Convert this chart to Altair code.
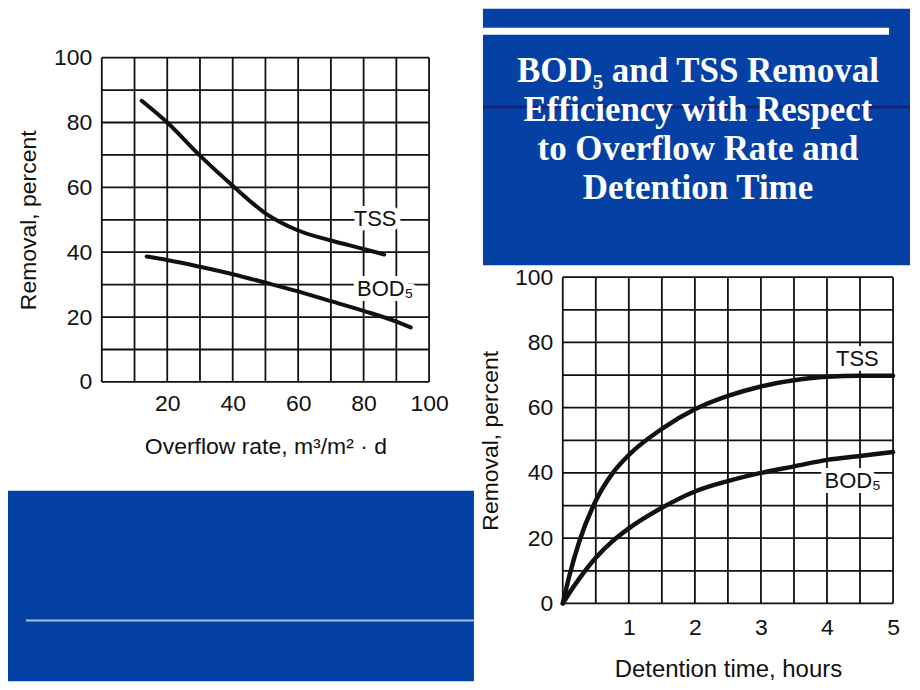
import altair as alt
import pandas as pd

# ---------------- data ----------------
# Left chart: removal vs overflow rate
tss_rate = [12.2, 20, 30, 40, 50, 60, 70, 80, 86.3]
tss_rate_removal = [86.7, 80.0, 69.8, 60.5, 52.0, 46.7, 43.6, 41.0, 39.3]
bod_rate = [13.7, 20, 30, 40, 50, 60, 70, 80, 90, 94.4]
bod_rate_removal = [38.7, 37.6, 35.5, 33.2, 30.6, 27.9, 24.9, 21.9, 18.6, 16.8]

# Right chart: removal vs detention time
det_time = [0, 0.1, 0.25, 0.5, 0.75, 1, 1.5, 2, 2.5, 3, 3.5, 4, 4.5, 5]
tss_det_removal = [0, 8.5, 19, 31.5, 39.8, 45.5, 53.5, 59.5, 63.6, 66.5, 68.4, 69.5, 69.8, 69.8]
bod_det_removal = [0, 3.2, 7.6, 14, 19, 23, 29.3, 34.3, 37.5, 40, 42, 44, 45.2, 46.4]

# curve labels (text, x, y in data units)
left_label_text = ["TSS", "BOD\u2085"]
left_label_x = [83.5, 86.6]
left_label_y = [50.3, 28.8]
right_label_text = ["TSS", "BOD\u2085"]
right_label_x = [4.46, 4.39]
right_label_y = [75.0, 37.4]

# grid lines and tick labels
left_x_grid = list(range(0, 101, 10))
left_x_labels = [20, 40, 60, 80, 100]
right_x_grid = [0, 0.5, 1, 1.5, 2, 2.5, 3, 3.5, 4, 4.5, 5]
right_x_labels = [1, 2, 3, 4, 5]
y_grid = list(range(0, 101, 10))
y_labels = [0, 20, 40, 60, 80, 100]

title_lines = ["BOD\u2085 and TSS Removal", "Efficiency with Respect",
               "to Overflow Rate and", "Detention Time"]

# ---------------- styles ----------------
FONT = "Liberation Sans"
INK = "#111111"
BLUE = "#0541a5"
NAVY = "#14237a"
LIGHT = "#a9bfe8"
GRID_W = 1.8


def y_axis(padding_title):
    return alt.Axis(values=y_labels, format="d", grid=False, tickSize=0, domain=False,
                    labelOverlap=False, labelFont=FONT, labelFontSize=23, labelColor=INK,
                    labelPadding=10, title="Removal, percent", titleFont=FONT,
                    titleFontSize=23, titleFontWeight="normal", titleColor=INK,
                    titlePadding=padding_title)


def x_axis(values, title, label_pad, title_pad, title_size):
    return alt.Axis(values=values, format="d", grid=False, tickSize=0, domain=False,
                    labelFlush=False, labelOverlap=False, labelFont=FONT, labelFontSize=23,
                    labelColor=INK, labelPadding=label_pad, title=title, titleFont=FONT,
                    titleFontSize=title_size, titleFontWeight="normal", titleColor=INK,
                    titlePadding=title_pad)


blank = alt.Data(values=[{}])

# ---------------- left chart ----------------
left_df = pd.concat([
    pd.DataFrame({"rate": tss_rate, "removal": tss_rate_removal, "series": "TSS"}),
    pd.DataFrame({"rate": bod_rate, "removal": bod_rate_removal, "series": "BOD"}),
])
left_lab = pd.DataFrame({"t": left_label_text, "rate": left_label_x, "removal": left_label_y})

lx = alt.X("rate:Q", scale=alt.Scale(domain=[0, 100], nice=False, zero=False),
           axis=x_axis(left_x_labels, "Overflow rate, m\u00b3/m\u00b2 \u00b7 d", 11, 20, 23))
ly = alt.Y("removal:Q", scale=alt.Scale(domain=[0, 100], nice=False), axis=y_axis(13))

left_panel = alt.Chart(blank).mark_rect(color=BLUE).encode(
    x=alt.value(-94), x2=alt.value(373), y=alt.value(434), y2=alt.value(625))
left_panel_line = alt.Chart(blank).mark_rule(color=LIGHT, strokeWidth=2).encode(
    x=alt.value(-76), x2=alt.value(373), y=alt.value(564))
left_vgrid = alt.Chart(pd.DataFrame({"rate": left_x_grid})).mark_rule(
    color=INK, strokeWidth=GRID_W).encode(x=lx)
left_hgrid = alt.Chart(pd.DataFrame({"removal": y_grid})).mark_rule(
    color=INK, strokeWidth=GRID_W).encode(y=ly)
left_lines = alt.Chart(left_df).mark_line(color=INK, strokeWidth=4, interpolate="monotone",
                                          strokeCap="round").encode(x=lx, y=ly, detail="series:N")
left_halo = alt.Chart(left_lab).mark_text(font=FONT, fontSize=22, stroke="white", fill="white",
                                          strokeWidth=10, strokeJoin="round").encode(
    x=lx, y=ly, text="t:N")
left_text = alt.Chart(left_lab).mark_text(font=FONT, fontSize=22, color=INK).encode(
    x=lx, y=ly, text="t:N")

left_chart = alt.layer(left_panel, left_panel_line, left_vgrid, left_hgrid, left_lines,
                       left_halo, left_text).properties(width=328, height=325)

# ---------------- title panel ----------------
title_rect = alt.Chart(blank).mark_rect(color=BLUE).encode(
    x=alt.value(-80), x2=alt.value(348), y=alt.value(-49), y2=alt.value(208))
title_white = alt.Chart(blank).mark_rule(color="white", strokeWidth=7).encode(
    x=alt.value(-80), x2=alt.value(327), y=alt.value(-26.5))
title_navy = alt.Chart(blank).mark_rule(color=NAVY, strokeWidth=3).encode(
    x=alt.value(-80), x2=alt.value(348), y=alt.value(49.5))
title_text = alt.Chart(blank).mark_text(
    text=title_lines, font="Liberation Serif", fontWeight="bold", fontSize=35,
    color="white", align="center", baseline="alphabetic", lineHeight=39).encode(
    x=alt.value(135.5), y=alt.value(24.7))
title_panel = alt.layer(title_rect, title_white, title_navy, title_text).properties(
    width=348, height=208)

# ---------------- right chart ----------------
right_df = pd.concat([
    pd.DataFrame({"time": det_time, "removal": tss_det_removal, "series": "TSS"}),
    pd.DataFrame({"time": det_time, "removal": bod_det_removal, "series": "BOD"}),
])
right_lab = pd.DataFrame({"t": right_label_text, "time": right_label_x, "removal": right_label_y})

rx = alt.X("time:Q", scale=alt.Scale(domain=[0, 5], nice=False, zero=False),
           axis=x_axis(right_x_labels, "Detention time, hours", 13, 18, 24))
ry = alt.Y("removal:Q", scale=alt.Scale(domain=[0, 100], nice=False), axis=y_axis(12))

right_vgrid = alt.Chart(pd.DataFrame({"time": right_x_grid})).mark_rule(
    color=INK, strokeWidth=GRID_W).encode(x=rx)
right_hgrid = alt.Chart(pd.DataFrame({"removal": y_grid})).mark_rule(
    color=INK, strokeWidth=GRID_W).encode(y=ry)
right_lines = alt.Chart(right_df).mark_line(color=INK, strokeWidth=4.5, interpolate="monotone",
                                            strokeCap="round").encode(x=rx, y=ry, detail="series:N")
right_halo = alt.Chart(right_lab).mark_text(font=FONT, fontSize=22, stroke="white", fill="white",
                                            strokeWidth=10, strokeJoin="round").encode(
    x=rx, y=ry, text="t:N")
right_text = alt.Chart(right_lab).mark_text(font=FONT, fontSize=22, color=INK).encode(
    x=rx, y=ry, text="t:N")
right_chart = alt.layer(right_vgrid, right_hgrid, right_lines, right_halo,
                        right_text).properties(width=331, height=327)

# ---------------- layout ----------------
right_col = alt.vconcat(title_panel, right_chart, spacing=1)
chart = alt.hconcat(left_chart, right_col, spacing=4).properties(
    padding=0, background="white"
).configure_view(stroke=None)

chart.save("out.html", embed_options={"renderer": "svg", "actions": False})
